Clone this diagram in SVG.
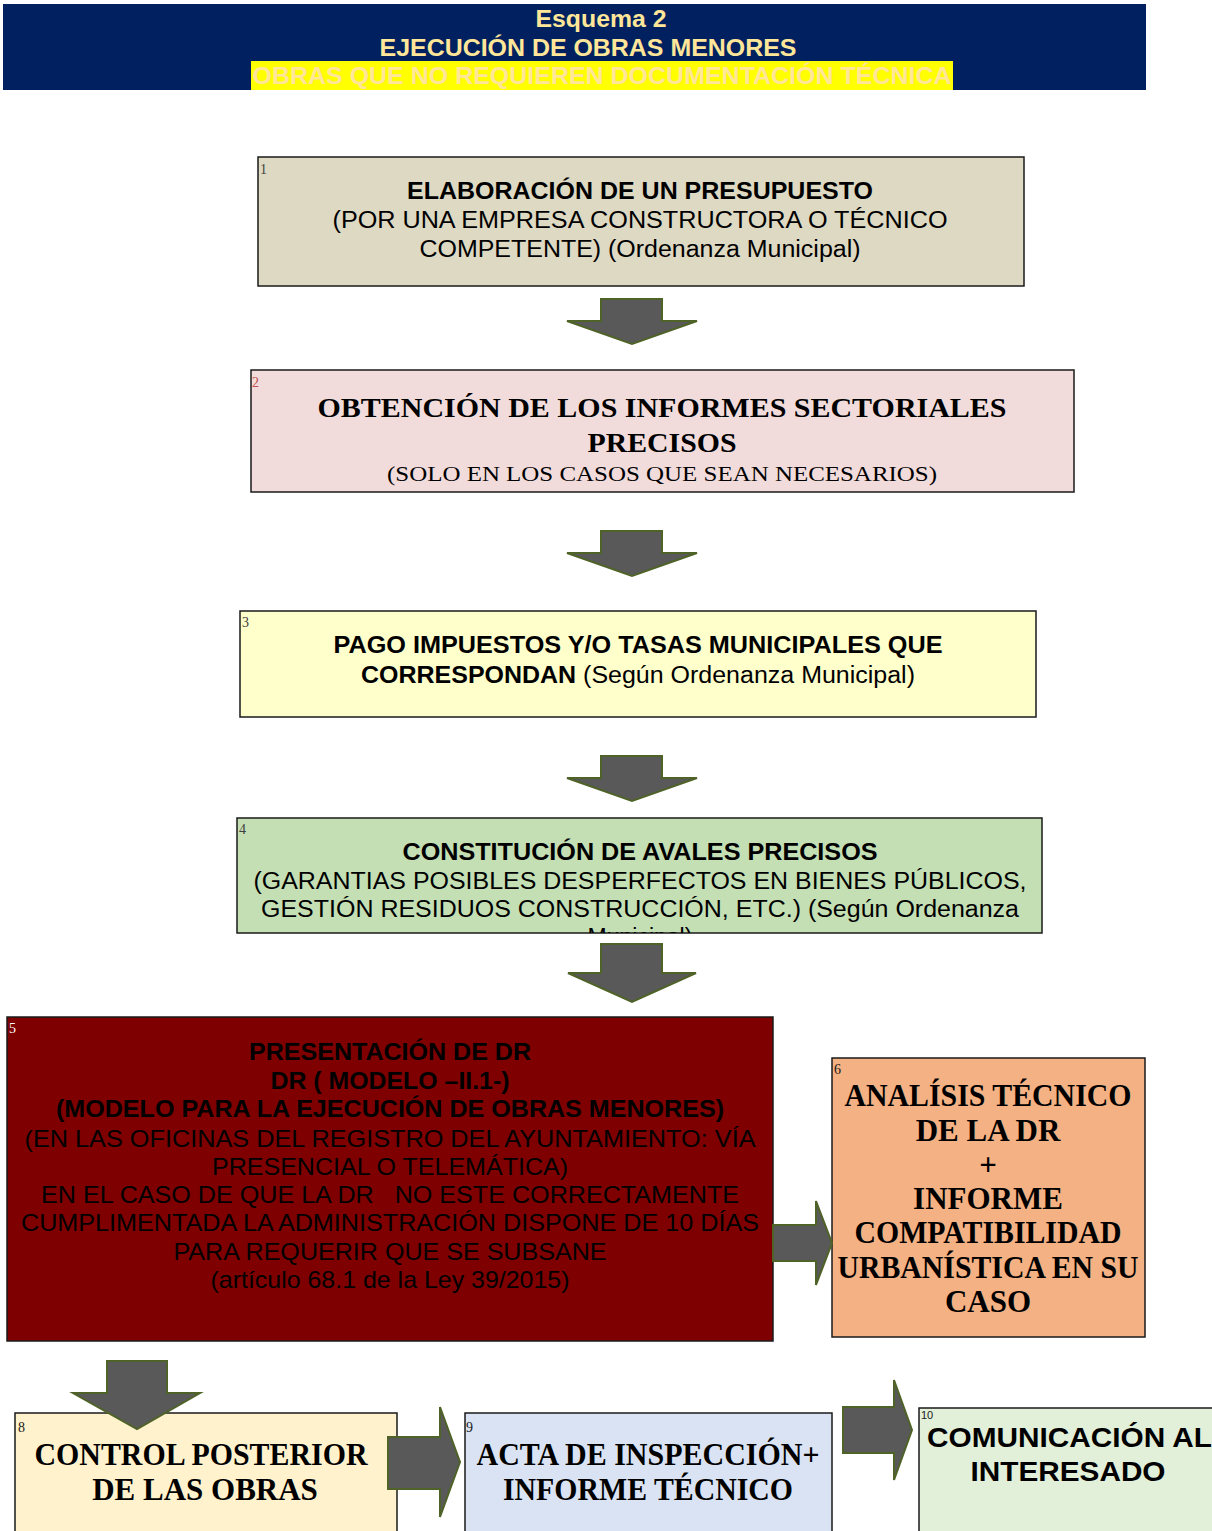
<svg xmlns="http://www.w3.org/2000/svg" width="1212" height="1531" viewBox="0 0 1212 1531">
<style>
.box{stroke:#1a1a1a;stroke-width:1.5}
.arr{fill:#595959;stroke:#4F6228;stroke-width:2;stroke-linejoin:miter}
.sans{font-family:"Liberation Sans",Arial,sans-serif}
.serif{font-family:"Liberation Serif","Times New Roman",serif}
.b{font-weight:bold}
.num{font-family:"Liberation Serif","Times New Roman",serif;font-size:14px;fill:#404040}
.hd{font-family:"Liberation Sans",Arial,sans-serif;font-weight:bold;font-size:23px;fill:#FFE699;text-anchor:middle}
.c{text-anchor:middle}
</style>
<defs>
<clipPath id="clip4"><rect x="237" y="818" width="805" height="115"/></clipPath>
</defs>
<g id="header">
<rect x="3" y="4" width="1143" height="86" fill="#002060"/>
<rect x="251" y="61" width="702" height="29" fill="#FFFF00"/>
<text class="hd" x="601" y="27" textLength="131" lengthAdjust="spacingAndGlyphs">Esquema 2</text>
<text class="hd" x="588" y="56" textLength="417" lengthAdjust="spacingAndGlyphs">EJECUCIÓN DE OBRAS MENORES</text>
<text class="hd" x="602" y="84" textLength="699" lengthAdjust="spacingAndGlyphs">OBRAS QUE NO REQUIEREN DOCUMENTACIÓN TÉCNICA</text>
</g>
<g id="node1">
<rect class="box" x="258" y="157" width="766" height="129" fill="#DDD9C3"/>
<text class="num" x="260" y="174">1</text>
<text class="sans b c" x="640" y="199" font-size="23" textLength="466" lengthAdjust="spacingAndGlyphs">ELABORACIÓN DE UN PRESUPUESTO</text>
<text class="sans c" x="640" y="228" font-size="23" textLength="615" lengthAdjust="spacingAndGlyphs">(POR UNA EMPRESA CONSTRUCTORA O TÉCNICO</text>
<text class="sans c" x="640" y="257" font-size="23" textLength="441" lengthAdjust="spacingAndGlyphs">COMPETENTE) (Ordenanza Municipal)</text>
</g>
<g id="node2">
<rect class="box" x="251" y="370" width="823" height="122" fill="#F2DCDB"/>
<text class="num" x="252" y="387" style="fill:#C0504D">2</text>
<text class="serif b c" x="662" y="417" font-size="28" textLength="689" lengthAdjust="spacingAndGlyphs">OBTENCIÓN DE LOS INFORMES SECTORIALES</text>
<text class="serif b c" x="662" y="452" font-size="28" textLength="149" lengthAdjust="spacingAndGlyphs">PRECISOS</text>
<text class="serif c" x="662" y="481" font-size="22" textLength="550" lengthAdjust="spacingAndGlyphs">(SOLO EN LOS CASOS QUE SEAN NECESARIOS)</text>
</g>
<g id="node3">
<rect class="box" x="240" y="611" width="796" height="106" fill="#FFFFCC"/>
<text class="num" x="242" y="627">3</text>
<text class="sans b c" x="638" y="653" font-size="23" textLength="609" lengthAdjust="spacingAndGlyphs">PAGO IMPUESTOS Y/O TASAS MUNICIPALES QUE</text>
<text class="sans c" x="638" y="683" font-size="23" textLength="554" lengthAdjust="spacingAndGlyphs"><tspan font-weight="bold">CORRESPONDAN</tspan> (Según Ordenanza Municipal)</text>
</g>
<g id="node4">
<rect class="box" x="237" y="818" width="805" height="115" fill="#C4DFB4"/>
<text class="num" x="239" y="834">4</text>
<g clip-path="url(#clip4)">
<text class="sans b c" x="640" y="860" font-size="23" textLength="475" lengthAdjust="spacingAndGlyphs">CONSTITUCIÓN DE AVALES PRECISOS</text>
<text class="sans c" x="640" y="889" font-size="23" textLength="773" lengthAdjust="spacingAndGlyphs">(GARANTIAS POSIBLES DESPERFECTOS EN BIENES PÚBLICOS,</text>
<text class="sans c" x="640" y="917" font-size="23" textLength="758" lengthAdjust="spacingAndGlyphs">GESTIÓN RESIDUOS CONSTRUCCIÓN, ETC.) (Según Ordenanza</text>
<text class="sans c" x="640" y="945" font-size="23">Municipal)</text>
</g>
</g>
<g id="node5">
<rect class="box" x="7" y="1017" width="766" height="324" fill="#7F0000"/>
<text class="num" x="9" y="1033" style="fill:#ffffff">5</text>
<g class="sans c" font-size="24" fill="#000">
<text class="b" x="390" y="1060" textLength="282" lengthAdjust="spacingAndGlyphs">PRESENTACIÓN DE DR</text>
<text class="b" x="390" y="1089" textLength="239" lengthAdjust="spacingAndGlyphs">DR ( MODELO –II.1-)</text>
<text class="b" x="390" y="1117" textLength="668" lengthAdjust="spacingAndGlyphs">(MODELO PARA LA EJECUCIÓN DE OBRAS MENORES)</text>
<text x="390" y="1147" textLength="731" lengthAdjust="spacingAndGlyphs">(EN LAS OFICINAS DEL REGISTRO DEL AYUNTAMIENTO: VÍA</text>
<text x="390" y="1175" textLength="356" lengthAdjust="spacingAndGlyphs">PRESENCIAL O TELEMÁTICA)</text>
<text x="390" y="1203" textLength="698" lengthAdjust="spacingAndGlyphs" xml:space="preserve">EN EL CASO DE QUE LA DR   NO ESTE CORRECTAMENTE</text>
<text x="390" y="1231" textLength="738" lengthAdjust="spacingAndGlyphs">CUMPLIMENTADA LA ADMINISTRACIÓN DISPONE DE 10 DÍAS</text>
<text x="390" y="1260" textLength="433" lengthAdjust="spacingAndGlyphs">PARA REQUERIR QUE SE SUBSANE</text>
<text x="390" y="1288" textLength="359" lengthAdjust="spacingAndGlyphs">(artículo 68.1 de la Ley 39/2015)</text>
</g>
</g>
<g id="node6">
<rect class="box" x="832" y="1058" width="313" height="279" fill="#F4B183"/>
<text class="num" x="834" y="1074" style="fill:#1a1a1a">6</text>
<g class="serif b c" font-size="31">
<text x="988" y="1106" textLength="287" lengthAdjust="spacingAndGlyphs">ANALÍSIS TÉCNICO</text>
<text x="988" y="1141">DE LA DR</text>
<text x="988" y="1175">+</text>
<text x="988" y="1209">INFORME</text>
<text x="988" y="1243" textLength="267" lengthAdjust="spacingAndGlyphs">COMPATIBILIDAD</text>
<text x="988" y="1278" textLength="301" lengthAdjust="spacingAndGlyphs">URBANÍSTICA EN SU</text>
<text x="988" y="1312">CASO</text>
</g>
</g>
<g id="node8">
<rect x="15" y="1413" width="382" height="130" fill="#FFF2CC" stroke="#1a1a1a" stroke-width="1.5"/>
<text class="num" x="18" y="1432" style="fill:#1a1a1a">8</text>
<g class="serif b c" font-size="31">
<text x="201" y="1465" textLength="333" lengthAdjust="spacingAndGlyphs">CONTROL POSTERIOR</text>
<text x="205" y="1500">DE LAS OBRAS</text>
</g>
</g>
<g id="node9">
<rect x="465" y="1413" width="367" height="130" fill="#DAE3F3" stroke="#1a1a1a" stroke-width="1.5"/>
<text class="num" x="466" y="1432" style="fill:#1a1a1a">9</text>
<g class="serif b c" font-size="31">
<text x="648" y="1465" textLength="343" lengthAdjust="spacingAndGlyphs">ACTA DE INSPECCIÓN+</text>
<text x="648" y="1500" textLength="290" lengthAdjust="spacingAndGlyphs">INFORME TÉCNICO</text>
</g>
</g>
<g id="node10">
<rect x="919" y="1408" width="310" height="140" fill="#E2EFD9" stroke="#1a1a1a" stroke-width="1.5"/>
<text class="sans" x="921" y="1419" font-size="11" fill="#1a1a1a">10</text>
<g class="sans b" font-size="28">
<text x="927" y="1447" textLength="285" lengthAdjust="spacingAndGlyphs">COMUNICACIÓN AL</text>
<text x="1068" y="1481" class="c" textLength="195" lengthAdjust="spacingAndGlyphs">INTERESADO</text>
</g>
</g>
<g id="connectors">
<polygon class="arr" points="601,299 662,299 662,321 697,321 632,344 567,321 601,321"/>
<polygon class="arr" points="601,531 662,531 662,553 697,553 632,576 567,553 601,553"/>
<polygon class="arr" points="601,756 662,756 662,778 697,778 632,801 567,778 601,778"/>
<polygon class="arr" points="601,944 662,944 662,973 696,973 632,1002 568,973 601,973"/>
<polygon class="arr" points="773,1225 816,1225 816,1201 832,1243 816,1285 816,1261 773,1261"/>
<polygon class="arr" points="107,1361 167,1361 167,1393 200,1393 137,1429 73,1393 107,1393"/>
<polygon class="arr" points="388,1437 440,1437 440,1407 460,1462 440,1517 440,1489 388,1489"/>
<polygon class="arr" points="843,1407 894,1407 894,1380 912,1430 894,1480 894,1453 843,1453"/>
</g>
</svg>
